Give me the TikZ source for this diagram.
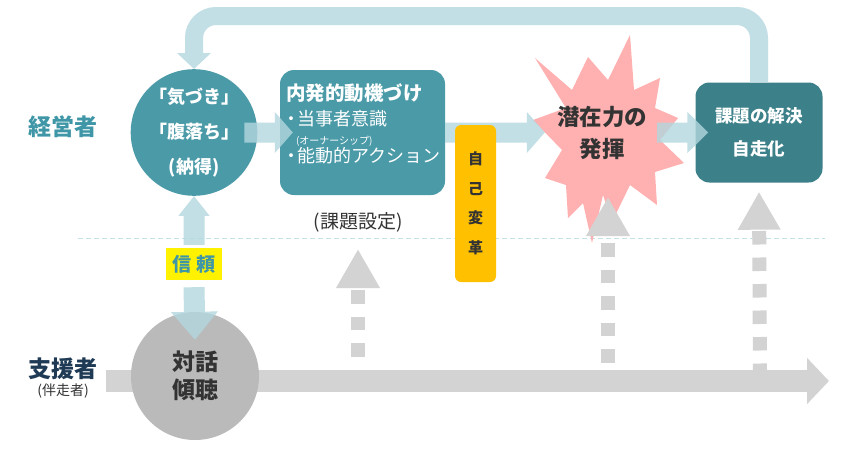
\documentclass[tikz,border=0pt]{standalone}
\usepackage{fontspec}
\setmainfont{Noto Sans CJK JP}
\usepackage{xcolor}
\usepackage{tikz}
\usetikzlibrary{arrows.meta,positioning,calc}
\definecolor{tealmain}{RGB}{74,154,168}
\definecolor{tealdark}{RGB}{60,128,138}
\definecolor{tealtext}{RGB}{62,150,166}
\definecolor{navytext}{RGB}{30,58,85}
\definecolor{bandblue}{RGB}{178,215,222}
\definecolor{greyflow}{RGB}{211,211,211}
\definecolor{greyball}{RGB}{186,186,186}
\definecolor{goldbox}{RGB}{255,192,0}
\definecolor{starpink}{RGB}{255,176,176}
\definecolor{inkgrey}{RGB}{51,51,51}
\definecolor{sepblue}{RGB}{195,226,232}

\begin{document}
\begin{tikzpicture}[x=1pt,y=-1pt,
    ball/.style={circle,inner sep=0pt,align=center,font=\bfseries},
    tealbox/.style={rounded corners=14pt,inner sep=0pt},
    bandarrow/.style={line width=20pt,bandblue,-{Triangle[length=18pt,width=40pt]}},
    dashup/.style={line width=14pt,greyflow,dash pattern=on 13.5pt off 13pt,-{Triangle[length=39pt,width=41pt]}}]
    % page frame
    \fill[white] (0,0) rectangle (865,466);
    \useasboundingbox (0,0) rectangle (865,466);

    % separator between the two roles
    \draw[sepblue,line width=0.8pt,dash pattern=on 5pt off 3pt] (78,238) -- (825,238);

    % explosion "potential"
    \fill[starpink] (630,35) -- (634,90) -- (660,78) -- (655,108) -- (678,118) -- (660,140)
        -- (684,163) -- (655,172) -- (657,205) -- (630,185) -- (612,222) -- (603,195)
        -- (592,243) -- (583,203) -- (568,218) -- (566,185) -- (545,178) -- (562,150)
        -- (533,120) -- (566,108) -- (535,58) -- (572,90) -- (588,57) -- (608,80) -- cycle;
    \node[font=\bfseries\fontsize{22.5}{32}\selectfont,text=inkgrey,align=center,
        minimum width=100pt,inner sep=0pt] (star) at (602,132.5) {潜在力の\\発揮};

    % supporter time line
    \coordinate (flowL) at (106,381);
    \coordinate (flowR) at (829,381);
    \draw[line width=22pt,greyflow,-{Triangle[length=22pt,width=45pt]}] (flowL) -- (flowR);
    \node[ball,fill=greyball,minimum size=128pt,text=inkgrey,
        font=\bfseries\fontsize{23}{28}\selectfont] (c2) at (195,376) {対話\\傾聴};

    % dotted support arrows
    \coordinate (d1bot) at (358,383);
    \coordinate (d1top) at (358,249);
    \coordinate (d2bot) at (608,389);
    \coordinate (d2top) at (608,197);
    \coordinate (d3bot) at (760,377);
    \draw[dashup] (d1bot) -- (d1top);
    \draw[dashup] (d2bot) -- (d2top);

    % manager side
    \node[ball,fill=tealmain,minimum size=126pt,text=white,
        font=\bfseries\fontsize{18}{35}\selectfont] (c1) at (194,132.5) {「気づき」\\「腹落ち」\\(納得)};
    \node[tealbox,fill=tealmain,minimum width=165pt,minimum height=125pt] (b2) at (362.5,132.5) {};
    \node[anchor=north west,inner sep=0pt,text=white,align=left,
        font=\fontsize{18}{25}\selectfont] (b2text) at ([xshift=6pt,yshift=-14pt]b2.north west)
        {{\bfseries\fontsize{19.5}{25}\selectfont 内発的動機づけ}\\
         \makebox[11pt][c]{・}当事者意識\\[-6pt]
         {\fontsize{10}{12}\selectfont\hspace{10pt}(オーナーシップ)}\\[-7pt]
         \makebox[11pt][c]{・}能動的アクション};
    \node[tealbox,fill=tealdark,minimum width=127pt,minimum height=100pt,text=white,
        align=center,font=\bfseries\fontsize{17.5}{33}\selectfont] (b5) at (759,132.5) {課題の解決\\自走化};
    \draw[dashup,-{Triangle[length=38pt,width=40pt]}] (d3bot) -- ([yshift=-9pt]b5.south);

    % trust label
    \node[fill=yellow,text=tealtext,minimum width=56pt,minimum height=32pt,inner sep=0pt,
        font=\bfseries\fontsize{19}{22}\selectfont] (trust) at (194,264) {信 頼};

    % light blue flow arrows
    \begin{scope}[transparency group,opacity=0.8]
        \draw[bandarrow] ([xshift=-13pt]c1.east) -- ([xshift=13pt]b2.west);
        \draw[bandarrow] (b2.east) -- ([xshift=-7pt]star.west);
        \draw[bandarrow,-{Triangle[length=21pt,width=40pt]}] ([xshift=5pt]star.east) -- ([xshift=13pt]b5.west);
        \draw[bandarrow,line width=18pt,rounded corners=22pt,-{Triangle[length=16pt,width=33pt]}]
            (b5.north) -- (759,16) -| (c1.north);
        \draw[bandarrow,line width=21pt,-{Triangle[length=20pt,width=30pt]}] ([yshift=3pt]trust.north) -- (c1.south);
        \draw[bandarrow,line width=21pt,-{Triangle[length=28pt,width=45pt]}] ([yshift=-7pt]trust.south) -- ([yshift=-28pt]c2.north);
    \end{scope}

    % self transformation
    \node[fill=goldbox,rounded corners=6pt,minimum width=41pt,minimum height=157pt,inner sep=0pt,
        text=inkgrey,align=center,font=\bfseries\fontsize{15}{29.5}\selectfont] (self) at (475.5,203.5) {自\\己\\変\\革};

    % role labels
    \node[text=tealtext,font=\bfseries\fontsize{23}{26}\selectfont] (mgr) at (63,127) {経営者};
    \node[text=navytext,font=\bfseries\fontsize{23}{26}\selectfont] (sup) at (63,369) {支援者};
    \node[text=inkgrey,font=\fontsize{14}{16}\selectfont] (supsub) at (63,391) {(伴走者)};
    \node[text=inkgrey,font=\fontsize{19}{22}\selectfont] (kadai) at (358,222) {(課題設定)};
\end{tikzpicture}
\end{document}
